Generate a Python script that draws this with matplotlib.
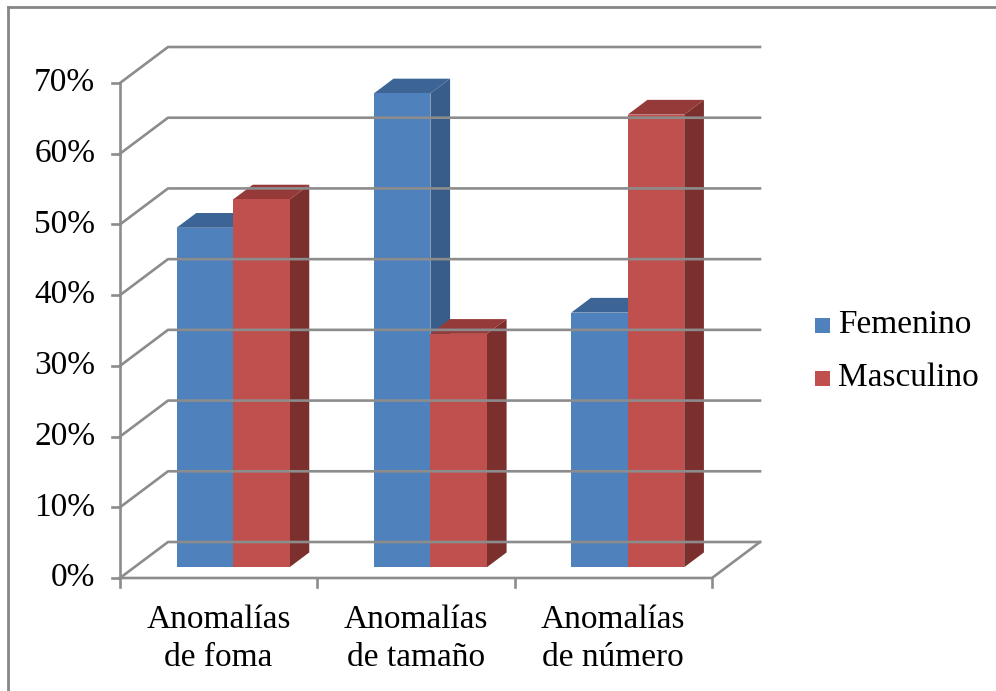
import numpy as np
import matplotlib
matplotlib.use('Agg')
from matplotlib import pyplot as plt
from matplotlib.patches import Polygon, Rectangle
from matplotlib.lines import Line2D


categories = ['Anomalías\nde foma', 'Anomalías\nde tamaño', 'Anomalías\nde número']
femenino = [0.48, 0.67, 0.36]
masculino = [0.52, 0.33, 0.64]
series_names = ['Femenino', 'Masculino']
y_ticks = [0.0, 0.1, 0.2, 0.3, 0.4, 0.5, 0.6, 0.7]
y_labels = ['0%', '10%', '20%', '30%', '40%', '50%', '60%', '70%']

# face colours: front, top, side
BLUE = ('#4f81bd', '#3c6494', '#385d8a')
RED = ('#c0504d', '#953a38', '#7c302e')
GRID = '#8c8c8c'

# depth offset of the back wall, in data units
DX = 0.2433
DY = 0.0509
BAR_W = 0.2864
Z0, Z1 = 0.30, 0.71

plt.rcParams['font.family'] = ['Liberation Serif', 'DejaVu Serif']

fig = plt.figure(figsize=(9.96, 6.91), dpi=100)
ax = fig.add_axes([120 / 996, 113 / 691, 640 / 996, 531 / 691])
ax.set_xlim(0, 3 + DX)
ax.set_ylim(0, 0.7 + DY)
ax.axis('off')

ncat = len(categories)
lw = 1.9

# side wall diagonals and back wall gridlines
for y in y_ticks:
	ax.add_line(Line2D([0, DX, ncat + DX], [y, y + DY, y + DY], color=GRID, lw=lw, clip_on=False))
	ax.add_line(Line2D([-0.04, 0], [y, y], color=GRID, lw=lw, clip_on=False))

# floor outline
ax.add_line(Line2D([0, ncat, ncat + DX], [0, 0, DY], color=GRID, lw=lw, clip_on=False))
ax.add_line(Line2D([0, 0], [0, 0.7], color=GRID, lw=lw, clip_on=False))
for i in range(ncat + 1):
	ax.add_line(Line2D([i, i], [0, -0.013], color=GRID, lw=lw, clip_on=False))


def box(x, h, cols):
	# front face, top and right side of one bar
	x0 = x + DX * Z0
	y0 = DY * Z0
	ddx = DX * (Z1 - Z0)
	ddy = DY * (Z1 - Z0)
	ax.add_patch(Polygon([[x0 + BAR_W, y0], [x0 + BAR_W + ddx, y0 + ddy],
		[x0 + BAR_W + ddx, y0 + h + ddy], [x0 + BAR_W, y0 + h]], closed=True, fc=cols[2], ec='none'))
	ax.add_patch(Polygon([[x0, y0 + h], [x0 + ddx, y0 + h + ddy],
		[x0 + BAR_W + ddx, y0 + h + ddy], [x0 + BAR_W, y0 + h]], closed=True, fc=cols[1], ec='none'))
	ax.bar(x0, h, width=BAR_W, bottom=y0, align='edge', color=cols[0], edgecolor='none')


for i in range(ncat):
	box(i + 0.5 - BAR_W, femenino[i], BLUE)
	box(i + 0.5, masculino[i], RED)

# tick labels
for y, lab in zip(y_ticks, y_labels):
	ax.text(-0.125, y, lab, ha='right', va='center', fontsize=24)
for i, cat in enumerate(categories):
	ax.text(i + 0.5, -0.038, cat, ha='center', va='top', fontsize=24, linespacing=1.3)

# legend
for k, (name, cols) in enumerate(zip(series_names, [BLUE, RED])):
	yy = 1 - (325 + 53 * k) / 691
	fig.add_artist(Rectangle((815 / 996, yy - 7.5 / 691), 15 / 996, 15 / 691, fc=cols[0], ec='none'))
	fig.text(838 / 996, yy, name, ha='left', va='center', fontsize=24)

# outer frame, top and left edges only
fig.add_artist(Line2D([8 / 996, 8 / 996], [0, 1 - 7 / 691], color='#868686', lw=2))
fig.add_artist(Line2D([8 / 996, 1], [1 - 7 / 691, 1 - 7 / 691], color='#868686', lw=2))

fig.savefig('out.png', dpi=100)
